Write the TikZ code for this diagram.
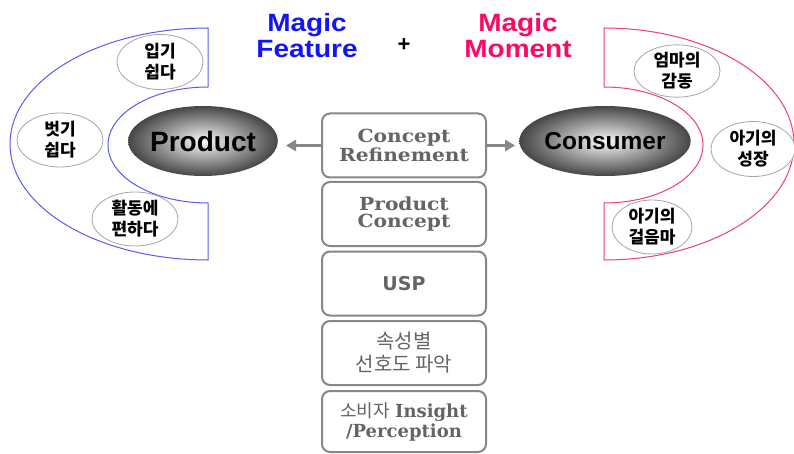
\documentclass[tikz,border=0pt]{standalone}
\usepackage{fontspec}
\usepackage{graphicx}
\setmainfont{Liberation Sans}
\newfontfamily\kr{Noto Sans CJK KR}
\newfontfamily\ser{DejaVu Serif}
\newfontfamily\dsans{DejaVu Sans}
\usetikzlibrary{arrows.meta,shapes.geometric}
\definecolor{fblue}{RGB}{20,20,250}
\definecolor{mpink}{RGB}{250,10,100}
\definecolor{lblue}{RGB}{90,90,240}
\definecolor{lpink}{RGB}{240,60,120}
\definecolor{btext}{RGB}{100,100,100}
\definecolor{bline}{RGB}{135,135,135}
\tikzset{
  small/.style={ellipse,draw=gray!70,line width=0.8pt,fill=white,inner sep=0pt,align=center,
    font=\kr\bfseries\fontsize{17}{21}\selectfont},
  bigell/.style={ellipse,inner sep=0pt,minimum width=140pt,minimum height=70pt,
    shading=radial,inner color=gray!5,outer color=gray!55!black,
    font=\bfseries},
  cbox/.style={draw=bline,line width=2pt,rounded corners=8pt,minimum width=164pt,
    minimum height=64pt,align=center,text=btext,inner sep=0pt},
  arr/.style={draw=bline,line width=3.5pt,-{Triangle[length=10pt,width=11pt]}},
}
\newcommand{\widen}[1]{\scalebox{1.12}[1]{#1}}
\begin{document}
\begin{tikzpicture}[x=1pt,y=1pt]
\useasboundingbox (0,0) rectangle (794,-454);
% C shapes
\draw[lblue,line width=1pt] (208,-28) -- (208,-87) arc[start angle=90,end angle=270,x radius=100,y radius=58]
  -- (208,-260) arc[start angle=270,end angle=90,x radius=198,y radius=116] -- cycle;
\draw[lpink,line width=1pt] (604,-28) -- (604,-87) arc[start angle=90,end angle=-90,x radius=99,y radius=58]
  -- (604,-203) -- (604,-260) arc[start angle=-90,end angle=90,x radius=190,y radius=116] -- cycle;
% titles
\node[fblue,align=center,font=\bfseries\fontsize{25}{26}\selectfont] (mf) at (307,-36) {\widen{Magic}\\\widen{Feature}};
\node[font=\bfseries\fontsize{22}{22}\selectfont] (plus) at (404,-45) {+};
\node[mpink,align=center,font=\bfseries\fontsize{25}{26}\selectfont] (mm) at (518,-36) {\widen{Magic}\\\widen{Moment}};
% small ellipses
\node[small,minimum width=86pt,minimum height=55pt] (e1) at (160,-62) {입기\\쉽다};
\node[small,minimum width=86pt,minimum height=54pt] (e2) at (60,-140) {벗기\\쉽다};
\node[small,minimum width=86pt,minimum height=54pt] (e3) at (135,-219) {활동에\\편하다};
\node[small,minimum width=86pt,minimum height=48pt] (e4) at (677,-71) {엄마의\\감동};
\node[small,minimum width=84pt,minimum height=55pt] (e5) at (753,-149) {아기의\\성장};
\node[small,minimum width=80pt,minimum height=54pt] (e6) at (652,-227) {아기의\\걸음마};
% big ellipses
\node[bigell,font=\bfseries\fontsize{28}{28}\selectfont] (prod) at (203,-141) {Product};
\node[bigell,font=\bfseries\fontsize{24.5}{24}\selectfont] (cons) at (605,-141) {Consumer};
% boxes
\node[cbox,font=\ser\bfseries\fontsize{18}{17}\selectfont] (b1) at (404,-145.5) {\widen{Concept}\\\widen{Refinement}};
\node[cbox,font=\ser\bfseries\fontsize{18}{17}\selectfont] (b2) at (404,-214) {\widen{Product}\\\widen{Concept}};
\node[cbox,font=\dsans\bfseries\fontsize{19}{19}\selectfont] (b3) at (404,-283.5) {USP};
\node[cbox,font=\kr\fontsize{20}{23}\selectfont] (b4) at (404,-353) {속성별\\선호도 파악};
\node[cbox,minimum height=61pt,font=\fontsize{18}{20}\selectfont] (b5) at (404,-421.5) {{\kr 소비자} {\ser\bfseries Insight}\\{\ser\bfseries /Perception}};
% arrows
\draw[arr,shorten >=8pt] (b1.west) -- (prod.east |- b1.west);
\draw[arr,shorten >=4pt] (b1.east) -- (cons.west |- b1.east);
\end{tikzpicture}
\end{document}
